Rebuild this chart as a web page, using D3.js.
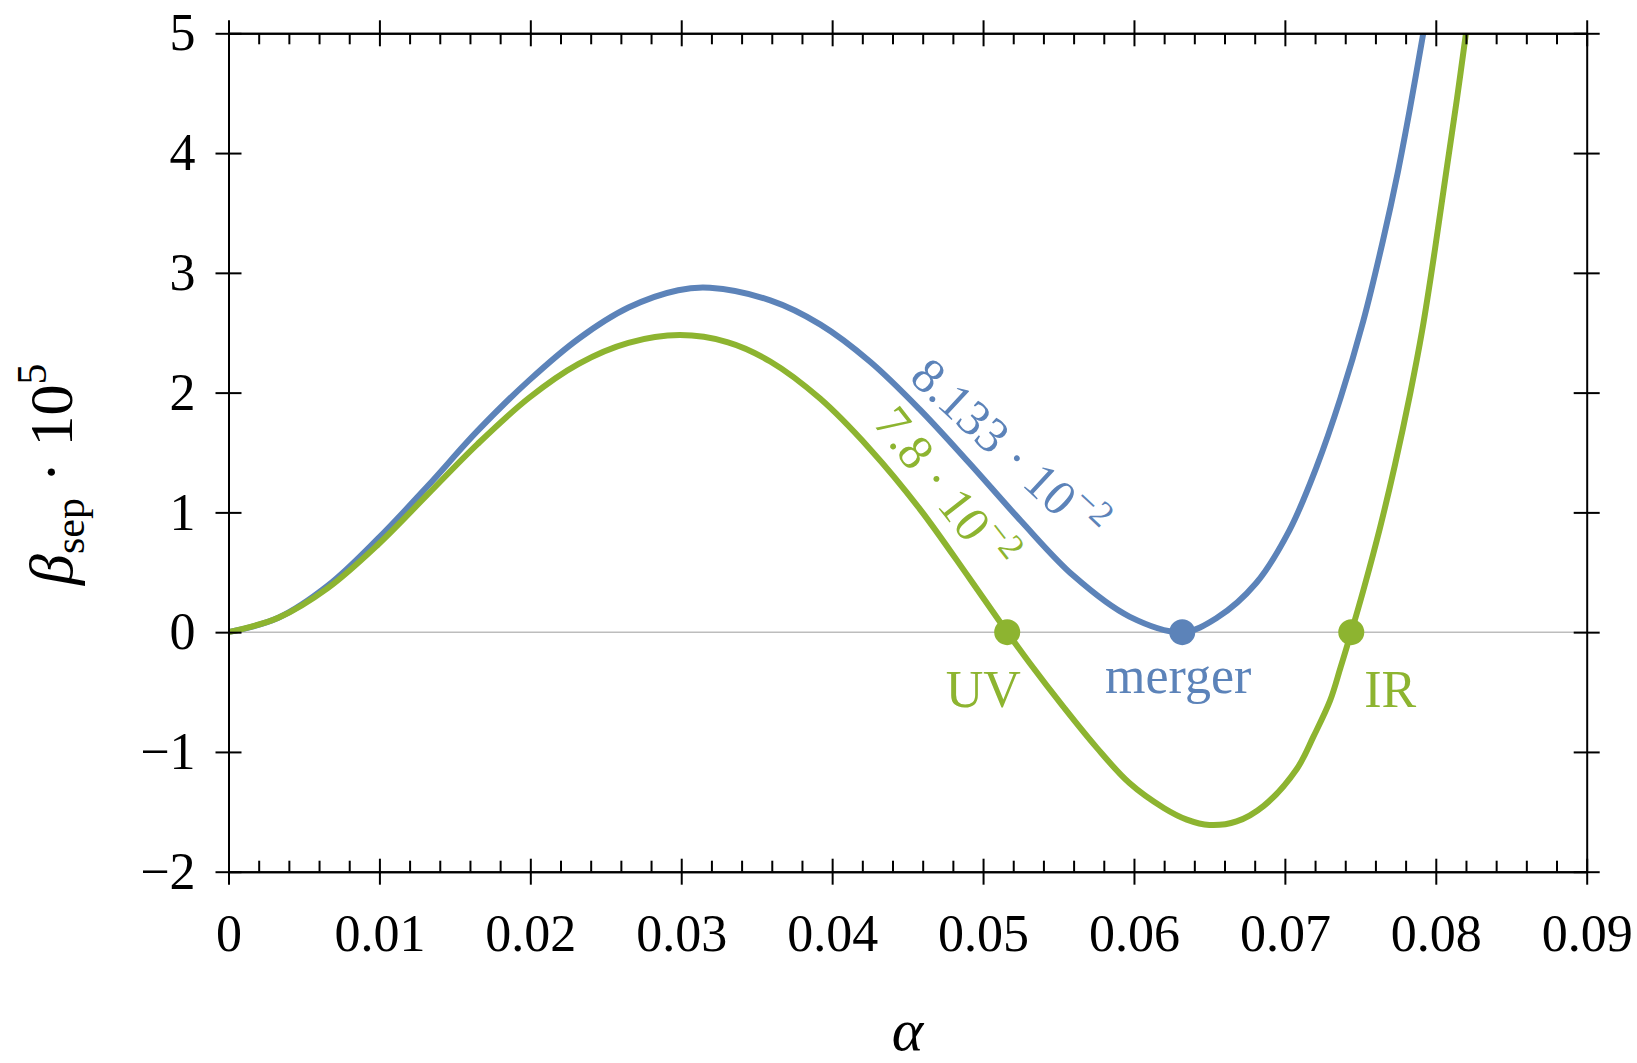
<!DOCTYPE html>
<html>
<head>
<meta charset="utf-8">
<script src="https://cdn.jsdelivr.net/npm/d3@7"></script>
<style>
  html, body { margin: 0; padding: 0; background: #fff; }
  #viz { width: 1637px; height: 1063px; }
  text { font-family: "Liberation Serif", "DejaVu Serif", serif; }
</style>
</head>
<body>
<div id="viz"></div>
<script>
// -----------------------------
// DATA
// -----------------------------
const blueAlpha = [0, 0.0033, 0.0066, 0.0099, 0.0132, 0.0165, 0.0199, 0.0232, 0.0265, 0.0298, 0.0319,
  0.0359, 0.0392, 0.0425, 0.0458, 0.0491, 0.0525, 0.056, 0.0597, 0.0632,
  0.0655, 0.0681, 0.0703, 0.0721, 0.0737, 0.0752, 0.0765, 0.0775, 0.0783, 0.07917];
const blueBeta = [0, 0.12, 0.39, 0.78, 1.22, 1.68, 2.1, 2.45, 2.71, 2.855, 2.875,
  2.77, 2.57, 2.26, 1.86, 1.41, 0.93, 0.47, 0.13, 0,
  0.12, 0.41, 0.85, 1.38, 1.96, 2.6, 3.27, 3.85, 4.38, 5.0];

const greenAlpha = [0, 0.0033, 0.0066, 0.0099, 0.0132, 0.0165, 0.0199, 0.0232, 0.0265, 0.0299, 0.0331,
  0.0359, 0.0392, 0.0425, 0.0458, 0.0491, 0.0516, 0.0531, 0.0553, 0.0575, 0.0597, 0.062, 0.0635, 0.065,
  0.0668, 0.0686, 0.0708, 0.0719, 0.073, 0.0737, 0.0744, 0.0752, 0.0763, 0.0773, 0.0783, 0.0791, 0.07995, 0.0807, 0.0814, 0.082];
const greenBeta = [0, 0.12, 0.37, 0.73, 1.15, 1.57, 1.955, 2.24, 2.415, 2.48, 2.42,
  2.26, 1.95, 1.53, 1.03, 0.45, 0, -0.26, -0.62, -0.96, -1.26, -1.47, -1.565, -1.61,
  -1.58, -1.45, -1.14, -0.87, -0.57, -0.29, 0, 0.35, 0.87, 1.4, 1.99, 2.52, 3.2, 3.85, 4.45, 5.0];

const pointNames = ["UV", "merger", "IR"];
const pointAlpha = [0.0516, 0.0632, 0.0744];
const pointSeries = ["green", "blue", "green"];

const curveLabels = ["8.133 · 10", "7.8 · 10"];
const curveLabelSup = ["−2", "−2"];
const curveLabelAlpha = [0.04503, 0.04264];
const curveLabelBeta = [2.11, 1.744];

const xTicks = [0, 0.01, 0.02, 0.03, 0.04, 0.05, 0.06, 0.07, 0.08, 0.09];
const xTickLabels = ["0", "0.01", "0.02", "0.03", "0.04", "0.05", "0.06", "0.07", "0.08", "0.09"];
const yTicks = [-2, -1, 0, 1, 2, 3, 4, 5];
const yTickLabels = ["−2", "−1", "0", "1", "2", "3", "4", "5"];

// -----------------------------
// SETUP
// -----------------------------
const width = 1637, height = 1063;
const COLORS = { blue: "#5c83b9", green: "#8db430" };
const margin = { left: 228.5, right: 50.3, top: 33.3, bottom: 191.3 };

const x = d3.scaleLinear().domain([0, 0.09]).range([margin.left, width - margin.right]);
const y = d3.scaleLinear().domain([-2, 5]).range([height - margin.bottom, margin.top]);

const svg = d3.select("#viz").append("svg")
  .attr("width", width)
  .attr("height", height)
  .style("display", "block");

svg.append("clipPath").attr("id", "plot-clip")
  .append("rect")
  .attr("x", x(0)).attr("y", y(5))
  .attr("width", x(0.09) - x(0)).attr("height", y(-2) - y(5));

const xMinor = d3.range(0, 91, 2).map(d => d / 1000).filter(d => Math.round(d * 1000) % 10 !== 0);

// zero line
svg.append("line")
  .attr("x1", x(0)).attr("x2", x(0.09))
  .attr("y1", y(0)).attr("y2", y(0))
  .attr("stroke", "#bdbdbd").attr("stroke-width", 1.5);

// -----------------------------
// CURVES
// -----------------------------
const line = d3.line()
  .x(d => x(d[0]))
  .y(d => y(d[1]))
  .curve(d3.curveCatmullRom.alpha(0.5));

const series = [
  { key: "blue", pts: d3.zip(blueAlpha, blueBeta) },
  { key: "green", pts: d3.zip(greenAlpha, greenBeta) }
];

svg.append("g").attr("clip-path", "url(#plot-clip)")
  .selectAll("path")
  .data(series)
  .join("path")
  .attr("d", d => line(d.pts))
  .attr("fill", "none")
  .attr("stroke", d => COLORS[d.key])
  .attr("stroke-width", 6)
  .attr("stroke-linejoin", "round");

// -----------------------------
// AXES
// -----------------------------
function styleAxis(g) {
  g.selectAll("path.domain").attr("stroke", "#000").attr("stroke-width", 2).attr("fill", "none");
  g.selectAll(".tick line").attr("stroke", "#000").attr("stroke-width", 2);
  g.selectAll("text").attr("font-size", 52).attr("fill", "#000")
    .style("font-family", "'Liberation Serif', 'DejaVu Serif', serif");
}

// bottom
const gb = svg.append("g").attr("transform", `translate(0,${y(-2)})`)
  .call(d3.axisBottom(x).tickValues(xTicks).tickFormat((d, i) => xTickLabels[i]).tickSize(13).tickSizeOuter(0))
  .call(styleAxis);
gb.selectAll(".tick line").attr("y1", -13);
gb.selectAll(".tick text").attr("y", 79).attr("dy", 0);
svg.append("g").attr("transform", `translate(0,${y(-2)})`)
  .call(d3.axisBottom(x).tickValues(xMinor).tickFormat("").tickSize(-11).tickSizeOuter(0))
  .call(styleAxis);

// top
const gt = svg.append("g").attr("transform", `translate(0,${y(5)})`)
  .call(d3.axisTop(x).tickValues(xTicks).tickFormat("").tickSize(13).tickSizeOuter(0))
  .call(styleAxis);
gt.selectAll(".tick line").attr("y1", 13);
svg.append("g").attr("transform", `translate(0,${y(5)})`)
  .call(d3.axisTop(x).tickValues(xMinor).tickFormat("").tickSize(-11).tickSizeOuter(0))
  .call(styleAxis);

// left
const gl = svg.append("g").attr("transform", `translate(${x(0)},0)`)
  .call(d3.axisLeft(y).tickValues(yTicks).tickFormat((d, i) => yTickLabels[i]).tickSize(13).tickSizeOuter(0))
  .call(styleAxis);
gl.selectAll(".tick line").attr("x1", 13);
gl.selectAll(".tick text").attr("x", -33);

// right
const gr = svg.append("g").attr("transform", `translate(${x(0.09)},0)`)
  .call(d3.axisRight(y).tickValues(yTicks).tickFormat("").tickSize(13).tickSizeOuter(0))
  .call(styleAxis);
gr.selectAll(".tick line").attr("x1", -13);

// -----------------------------
// MARKERS + ANNOTATIONS
// -----------------------------
const markers = pointNames.map((name, i) => ({ name, a: pointAlpha[i], key: pointSeries[i] }));

svg.append("g").selectAll("circle")
  .data(markers)
  .join("circle")
  .attr("cx", d => x(d.a))
  .attr("cy", y(0))
  .attr("r", 13)
  .attr("fill", d => COLORS[d.key]);

const nameDx = { UV: -24, merger: -4, IR: 39 };
const nameY = { UV: 707, merger: 693, IR: 707 };
svg.append("g").selectAll("text")
  .data(markers)
  .join("text")
  .attr("x", d => x(d.a) + nameDx[d.name])
  .attr("y", d => nameY[d.name])
  .attr("text-anchor", "middle")
  .attr("font-size", 52)
  .attr("fill", d => COLORS[d.key])
  .text(d => d.name);

const labelAngle = [43, 52];
const labelKey = ["blue", "green"];
curveLabels.forEach((lab, i) => {
  const t = svg.append("text")
    .attr("transform", `translate(${x(curveLabelAlpha[i])},${y(curveLabelBeta[i])}) rotate(${labelAngle[i]})`)
    .attr("font-size", 50)
    .attr("fill", COLORS[labelKey[i]]);
  t.append("tspan").text(lab);
  t.append("tspan").attr("dy", -22).attr("font-size", 36).text(curveLabelSup[i]);
});

// axis titles
svg.append("text")
  .attr("x", (x(0) + x(0.09)) / 2)
  .attr("y", 1050)
  .attr("text-anchor", "middle")
  .attr("font-size", 60)
  .attr("font-style", "italic")
  .text("α");

const yl = svg.append("text")
  .attr("transform", "translate(72,585) rotate(-90)")
  .attr("font-size", 62);
yl.append("tspan").attr("font-style", "italic").text("β");
yl.append("tspan").attr("font-size", 42).attr("dy", 12).text("sep");
yl.append("tspan").attr("dy", -12).text(" · 10");
yl.append("tspan").attr("font-size", 42).attr("dy", -26).text("5");
</script>
</body>
</html>
